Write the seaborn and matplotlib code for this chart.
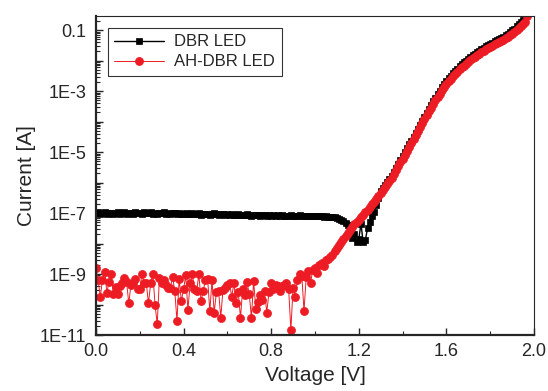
import numpy as np
import matplotlib
matplotlib.use('Agg')
import matplotlib.pyplot as plt
from matplotlib.ticker import LogLocator, MultipleLocator, NullFormatter
import seaborn as sns

# sweep voltage (V), 10 mV steps
voltage = np.round(np.arange(0, 1.975, 0.01), 2)

# log10 of current [A]
dbrLog = [
	-7.00, -6.98, -7.03, -7.00, -6.97, -7.02, -7.01, -6.99, -7.04, -7.00,
	-6.98, -7.02, -7.01, -6.97, -7.03, -7.00, -6.99, -7.02, -6.98, -7.01,
	-7.00, -7.03, -6.98, -7.01, -6.99, -6.97, -7.02, -7.00, -7.03, -6.99,
	-7.01, -6.98, -7.02, -7.00, -7.03, -6.99, -7.01, -7.04, -7.00, -7.02,
	-7.03, -7.01, -7.04, -7.02, -7.00, -7.04, -7.03, -7.01, -7.05, -7.02,
	-7.04, -7.02, -7.05, -7.03, -7.01, -7.04, -7.06, -7.03, -7.02, -7.05,
	-7.04, -7.06, -7.03, -7.05, -7.07, -7.04, -7.06, -7.05, -7.07, -7.04,
	-7.06, -7.08, -7.05, -7.07, -7.06, -7.08, -7.05, -7.07, -7.09, -7.06,
	-7.08, -7.06, -7.09, -7.07, -7.08, -7.06, -7.09, -7.08, -7.10, -7.07,
	-7.09, -7.08, -7.10, -7.07, -7.09, -7.11, -7.08, -7.10, -7.09, -7.11,
	-7.10, -7.08, -7.11, -7.10, -7.12, -7.11, -7.13, -7.12, -7.14, -7.13,
	-7.16, -7.18, -7.22, -7.26, -7.32, -7.38, -7.60, -7.80, -7.70, -7.94,
	-7.85, -7.35, -7.95, -7.88, -7.50, -7.30, -7.10, -6.95, -6.72, -6.52,
	-6.28, -6.18, -6.08, -5.98, -5.88, -5.77, -5.65, -5.53, -5.40, -5.27,
	-5.14, -5.01, -4.88, -4.75, -4.62, -4.49, -4.36, -4.23, -4.10, -3.97,
	-3.84, -3.71, -3.58, -3.46, -3.34, -3.22, -3.10, -2.99, -2.88, -2.78,
	-2.68, -2.58, -2.49, -2.41, -2.33, -2.26, -2.19, -2.12, -2.06, -2.00,
	-1.94, -1.88, -1.83, -1.78, -1.73, -1.68, -1.63, -1.58, -1.53, -1.49,
	-1.45, -1.41, -1.37, -1.33, -1.29, -1.25, -1.21, -1.17, -1.12, -1.07,
	-1.01, -0.95, -0.88, -0.81, -0.74, -0.66, -0.58, -0.50,
]

ahLog = [
	-8.81, -9.20, -9.74, -9.20, -8.92, -9.61, -9.25, -9.00, -9.66, -9.42,
	-9.66, -9.40, -9.30, -9.12, -9.25, -9.96, -9.35, -9.30, -9.15, -9.50,
	-9.50, -9.00, -9.30, -9.30, -9.96, -9.30, -8.99, -10.00, -10.65, -9.12,
	-9.30, -9.20, -9.35, -9.45, -9.45, -9.08, -9.55, -10.53, -9.15, -9.88,
	-9.50, -9.04, -10.18, -9.30, -9.00, -9.50, -9.55, -9.00, -9.89, -9.55,
	-9.20, -9.15, -10.22, -9.20, -10.26, -9.60, -9.55, -10.43, -9.52, -9.45,
	-9.35, -9.30, -9.74, -9.30, -9.95, -9.60, -10.43, -9.50, -9.70, -9.27,
	-9.65, -10.43, -9.23, -10.15, -9.90, -9.70, -9.85, -9.55, -10.26, -9.60,
	-9.30, -9.50, -9.35, -9.40, -9.55, -9.40, -9.35, -9.30, -9.50, -10.84,
	-9.45, -9.75, -9.20, -9.00, -9.06, -10.21, -9.10, -8.90, -9.30, -8.85,
	-8.80, -8.95, -8.70, -8.65, -8.75, -8.54, -8.50, -8.43, -8.36, -8.25,
	-8.15, -8.05, -7.95, -7.85, -7.75, -7.65, -7.55, -7.45, -7.37, -7.30,
	-7.22, -7.14, -7.06, -6.98, -6.89, -6.80, -6.71, -6.62, -6.53, -6.44,
	-6.35, -6.25, -6.15, -6.05, -5.95, -5.84, -5.72, -5.60, -5.47, -5.34,
	-5.21, -5.08, -4.95, -4.82, -4.69, -4.56, -4.43, -4.30, -4.17, -4.04,
	-3.91, -3.78, -3.66, -3.54, -3.42, -3.30, -3.19, -3.08, -2.97, -2.87,
	-2.77, -2.68, -2.59, -2.51, -2.43, -2.36, -2.29, -2.22, -2.16, -2.10,
	-2.04, -1.98, -1.93, -1.88, -1.83, -1.78, -1.73, -1.68, -1.63, -1.59,
	-1.55, -1.51, -1.47, -1.43, -1.39, -1.35, -1.31, -1.27, -1.22, -1.17,
	-1.12, -1.06, -1.00, -0.93, -0.86, -0.79, -0.72, -0.55,
]

seriesNames = ['DBR LED', 'AH-DBR LED']
yTickExp = list(range(-11, 0))
yTickLabels = ['1E-11', '', '1E-9', '', '1E-7', '', '1E-5', '', '1E-3', '', '0.1']
xTicks = [0.0, 0.4, 0.8, 1.2, 1.6, 2.0]

dbrCurrent = 10.0 ** np.array(dbrLog)
ahCurrent = 10.0 ** np.array(ahLog)

redColor = '#ED1C24'

sns.set_style('ticks')
plt.rcParams['font.family'] = ['Liberation Sans', 'DejaVu Sans']

fig = plt.figure(figsize=(5.48, 3.91), dpi=100)
ax = fig.add_axes([0.175, 0.143, 0.7995, 0.816])

sns.lineplot(x=voltage, y=dbrCurrent, ax=ax, color='black', lw=1, marker='s', markersize=4.5,
	markeredgecolor='black', markeredgewidth=0.5, label=seriesNames[0])
sns.lineplot(x=voltage, y=ahCurrent, ax=ax, color=redColor, lw=0.7, marker='o', markersize=5.8,
	markeredgecolor=redColor, markeredgewidth=0.5, label=seriesNames[1])

ax.set_yscale('log')
ax.set_ylim(1e-11, 0.29)
ax.set_xlim(0, 2.0)
ax.set_yticks([10.0 ** e for e in yTickExp], yTickLabels)
ax.yaxis.set_minor_locator(LogLocator(base=10, subs=np.arange(2, 10), numticks=50))
ax.yaxis.set_minor_formatter(NullFormatter())
ax.set_xticks(xTicks, ['%.1f' % v for v in xTicks])
ax.xaxis.set_minor_locator(MultipleLocator(0.2))

ax.tick_params(which='major', direction='in', length=5, width=1, labelsize=13)
ax.tick_params(axis='y', which='major', pad=7)
ax.tick_params(axis='x', which='major', pad=6)
ax.tick_params(which='minor', direction='in', length=3, width=0.8)
for side in ['left', 'bottom']:
	ax.spines[side].set_linewidth(1.6)
for side in ['top', 'right']:
	ax.spines[side].set_linewidth(0.8)
	ax.spines[side].set_visible(True)

ax.set_xlabel('Voltage [V]', fontsize=15, labelpad=4)
ax.set_ylabel('Current [A]', fontsize=15, labelpad=3)

leg = ax.legend(loc='upper left', fontsize=12, frameon=True, fancybox=False, handlelength=3,
	borderaxespad=0.7, borderpad=0.4, labelspacing=0.3, handletextpad=0.6)
leg.get_frame().set_edgecolor('black')
leg.get_frame().set_linewidth(0.8)

fig.savefig('out.png', dpi=100)
